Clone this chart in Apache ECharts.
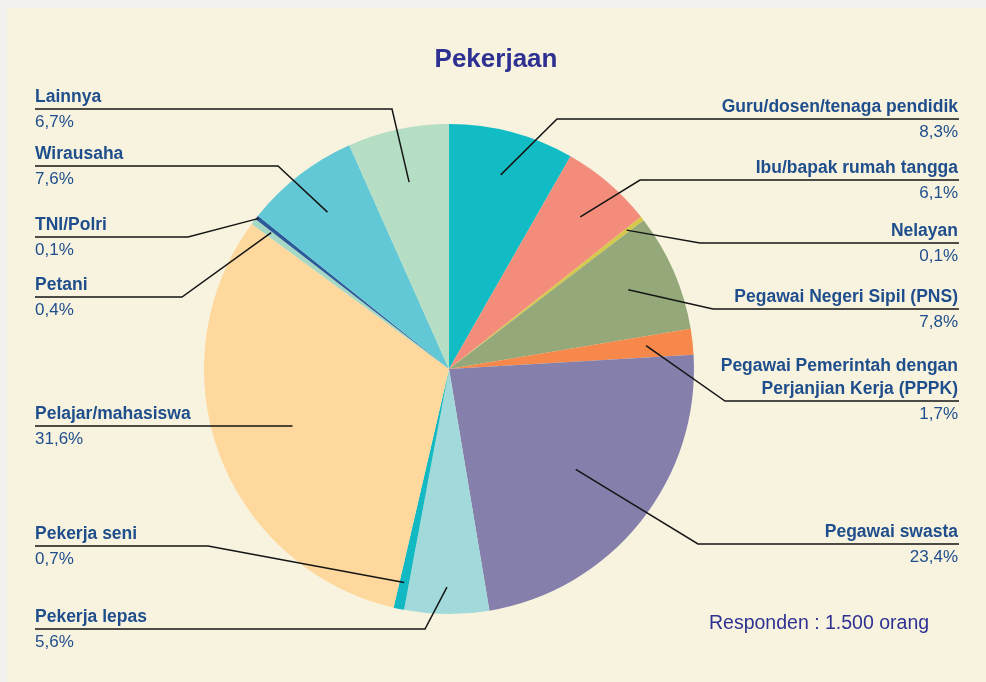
<!DOCTYPE html>
<html>
<head>
<meta charset="utf-8">
<script src="https://cdn.jsdelivr.net/npm/echarts@6/dist/echarts.min.js"></script>
<style>
  html, body { margin: 0; padding: 0; background: #f2f1ed; }
  #frame { position: absolute; left: 7px; top: 8px; right: 0; bottom: 0; background: #f8f3df; }
  #chart { position: absolute; left: 0; top: 0; width: 986px; height: 682px; }
</style>
</head>
<body>
<div id="frame"></div>
<div id="chart"></div>
<script>
// Occupation breakdown of respondents (percent)
const categories = [
  'Guru/dosen/tenaga pendidik',
  'Ibu/bapak rumah tangga',
  'Nelayan',
  'Pegawai Negeri Sipil (PNS)',
  'Pegawai Pemerintah dengan\nPerjanjian Kerja (PPPK)',
  'Pegawai swasta',
  'Pekerja lepas',
  'Pekerja seni',
  'Pelajar/mahasiswa',
  'Petani',
  'TNI/Polri',
  'Wirausaha',
  'Lainnya'
];
const values = [8.3, 6.1, 0.1, 7.8, 1.7, 23.4, 5.6, 0.7, 31.6, 0.4, 0.1, 7.6, 6.7];
const sliceColors = [
  '#12bcc4', '#f48c7b', '#d5c84a', '#94a87a', '#f5884a', '#857fab', '#a2d9da',
  '#12b9c3', '#fed89c', '#a5d8c5', '#2a5a9a', '#62c8d5', '#b5dec5'
];
const titleText = 'Pekerjaan';
const noteText = 'Responden : 1.500 orang';

// Label placement: side of the chart, y of the underline, x of the leader elbow,
// and how far into the slice the leader starts (fraction of the radius).
const labelSide  = ['r', 'r', 'r', 'r', 'r', 'r', 'l', 'l', 'l', 'l', 'l', 'l', 'l'];
const underlineY = [119, 180, 243, 309, 401, 544, 629, 546, 426, 297, 237, 166, 109];
const elbowX     = [557, 640, 700, 713, 725, 698, 425, 208, null, 182, 188, 278, 392];
const startRatio = [0.82, 0.82, 0.92, 0.80, 0.81, 0.66, 0.89, 0.89, 0.68, 0.915, 0.99, 0.81, 0.78];

const CX = 449, CY = 369, R = 245;
const MIN_ANGLE = 1;
const RIGHT_EDGE = 959, LEFT_EDGE = 35;
const NAME_LH = 23, VALUE_LH = 26;
const textColor = '#1f4e8c';
const labelFont = '"Liberation Sans", Arial, sans-serif';

const total = values.reduce((a, b) => a + b, 0);
const midAngles = [];
let acc = 0;
values.forEach(v => { midAngles.push((acc + v / 2) / total * Math.PI * 2); acc += v; });

function fmtPct(v) { return v.toFixed(1).replace('.', ',') + '%'; }

const pieBase = {
  type: 'pie',
  center: [CX, CY],
  radius: R,
  startAngle: 90,
  clockwise: true,
  avoidLabelOverlap: false,
  minAngle: MIN_ANGLE,
  silent: true
};

const chart = echarts.init(document.getElementById('chart'), null, { renderer: 'canvas' });
chart.setOption({
  backgroundColor: 'transparent',
  animation: false,
  title: [
    {
      text: titleText, left: 496, top: 47, padding: 0, textAlign: 'center',
      textStyle: { fontFamily: labelFont, fontWeight: 'bold', fontSize: 26, color: '#2e3192' }
    },
    {
      text: noteText, left: 709, top: 614, padding: 0,
      textStyle: { fontFamily: labelFont, fontWeight: 'normal', fontSize: 19.5, color: '#2e3192' }
    }
  ],
  series: [
    // coloured slices
    Object.assign({}, pieBase, {
      z: 2,
      itemStyle: { borderWidth: 0 },
      data: categories.map((c, i) => ({ name: c, value: values[i], itemStyle: { color: sliceColors[i] } })),
      label: { show: false },
      labelLine: { show: false }
    }),
    // same slices, unfilled, carrying the labels so the leaders sit on top
    Object.assign({}, pieBase, {
      z: 5,
      itemStyle: { color: 'rgba(0,0,0,0)', borderWidth: 0 },
      data: categories.map((c, i) => ({
        name: c,
        value: values[i],
        label: { align: labelSide[i] === 'r' ? 'right' : 'left' }
      })),
      label: {
        show: true,
        position: 'outer',
        formatter: p => {
          const lines = p.name.split('\n').map(s => '{n|' + s + '}');
          return lines.join('\n') + '\n{v|' + fmtPct(p.value) + '}';
        },
        rich: {
          n: { fontFamily: labelFont, fontWeight: 'bold', fontSize: 17.5, lineHeight: NAME_LH, color: textColor },
          v: { fontFamily: labelFont, fontWeight: 'normal', fontSize: 17, lineHeight: VALUE_LH, color: textColor }
        }
      },
      labelLine: { show: true, length: 10, length2: 10, lineStyle: { color: '#151515', width: 1.5 } },
      labelLayout: function (p) {
        const i = p.dataIndex;
        const a = midAngles[i];
        const r = R * startRatio[i];
        const sx = CX + r * Math.sin(a);
        const sy = CY - r * Math.cos(a);
        const ly = underlineY[i];
        const ex = elbowX[i] === null ? sx : elbowX[i];
        const ey = elbowX[i] === null ? sy : ly;
        const right = labelSide[i] === 'r';
        const nameLines = categories[i].split('\n').length;
        return {
          x: right ? RIGHT_EDGE - 1 : LEFT_EDGE,
          y: ly - nameLines * NAME_LH,
          align: right ? 'right' : 'left',
          verticalAlign: 'top',
          labelLinePoints: [[sx, sy], [ex, ey], [right ? RIGHT_EDGE : LEFT_EDGE, ly]]
        };
      }
    })
  ]
});
</script>
</body>
</html>
